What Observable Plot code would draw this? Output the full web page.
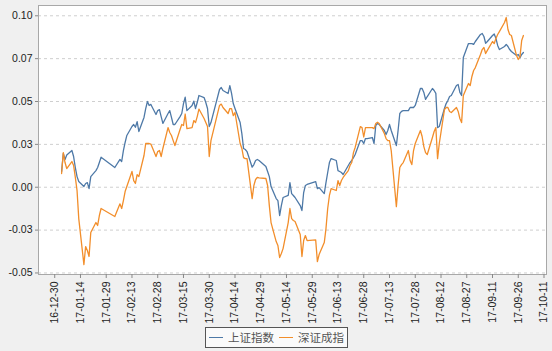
<!DOCTYPE html>
<html>
<head>
<meta charset="utf-8">
<script src="https://cdn.jsdelivr.net/npm/d3@7"></script>
<script src="https://cdn.jsdelivr.net/npm/@observablehq/plot@0.6"></script>
<style>
  html, body { margin: 0; padding: 0; background: #f0f0f0; }
  #chart { width: 552px; height: 326px; }
  #chart svg { overflow: visible; }
  #legend {
    position: absolute; left: 205px; top: 327px; width: 141px; height: 19px;
    border: 1px solid #555; background: #fafafa;
    font-family: "Noto Sans CJK SC", sans-serif; font-size: 11.5px; color: #555;
    display: flex; align-items: center; box-sizing: content-box;
  }
  #legend .sw { display: inline-block; width: 14px; height: 0; border-top: 1.5px solid; margin: 0 5px 0 3px; }
  #legend .lab { display: inline-block; width: 46px; line-height: 19px; white-space: nowrap; }
</style>
</head>
<body>
<div id="chart"></div>
<div id="legend"></div>
<script>
const seriesNames = ["上证指数", "深证成指"];
const seriesColors = ["#4e79a7", "#f28e2b"];

const dates = [
"2017-01-03","2017-01-04","2017-01-05","2017-01-06","2017-01-09","2017-01-10","2017-01-11","2017-01-12","2017-01-13","2017-01-16","2017-01-17","2017-01-18","2017-01-19","2017-01-20","2017-01-23","2017-01-24","2017-01-25","2017-01-26",
"2017-02-03","2017-02-06","2017-02-07","2017-02-08","2017-02-09","2017-02-10","2017-02-13","2017-02-14","2017-02-15","2017-02-16","2017-02-17","2017-02-20","2017-02-21","2017-02-22","2017-02-23","2017-02-24","2017-02-27","2017-02-28",
"2017-03-01","2017-03-02","2017-03-03","2017-03-06","2017-03-07","2017-03-08","2017-03-09","2017-03-10","2017-03-13","2017-03-14","2017-03-15","2017-03-16","2017-03-17","2017-03-20","2017-03-21","2017-03-22","2017-03-23","2017-03-24","2017-03-27","2017-03-28","2017-03-29","2017-03-30","2017-03-31",
"2017-04-05","2017-04-06","2017-04-07","2017-04-10","2017-04-11","2017-04-12","2017-04-13","2017-04-14","2017-04-17","2017-04-18","2017-04-19","2017-04-20","2017-04-21","2017-04-24","2017-04-25","2017-04-26","2017-04-27","2017-04-28",
"2017-05-02","2017-05-03","2017-05-04","2017-05-05","2017-05-08","2017-05-09","2017-05-10","2017-05-11","2017-05-12","2017-05-15","2017-05-16","2017-05-17","2017-05-18","2017-05-19","2017-05-22","2017-05-23","2017-05-24","2017-05-25","2017-05-26","2017-05-31",
"2017-06-01","2017-06-02","2017-06-05","2017-06-06","2017-06-07","2017-06-08","2017-06-09","2017-06-12","2017-06-13","2017-06-14","2017-06-15","2017-06-16","2017-06-19","2017-06-20","2017-06-21","2017-06-22","2017-06-23","2017-06-26","2017-06-27","2017-06-28","2017-06-29","2017-06-30",
"2017-07-03","2017-07-04","2017-07-05","2017-07-06","2017-07-07","2017-07-10","2017-07-11","2017-07-12","2017-07-13","2017-07-14","2017-07-17","2017-07-18","2017-07-19","2017-07-20","2017-07-21","2017-07-24","2017-07-25","2017-07-26","2017-07-27","2017-07-28","2017-07-31",
"2017-08-01","2017-08-02","2017-08-03","2017-08-04","2017-08-07","2017-08-08","2017-08-09","2017-08-10","2017-08-11","2017-08-14","2017-08-15","2017-08-16","2017-08-17","2017-08-18","2017-08-21","2017-08-22","2017-08-23","2017-08-24","2017-08-25","2017-08-28","2017-08-29","2017-08-30","2017-08-31",
"2017-09-01","2017-09-04","2017-09-05","2017-09-06","2017-09-07","2017-09-08","2017-09-11","2017-09-12","2017-09-13","2017-09-14","2017-09-15","2017-09-18","2017-09-19","2017-09-20","2017-09-21","2017-09-22","2017-09-25","2017-09-26","2017-09-27","2017-09-28","2017-09-29"
];

const shangzheng = [
0.0092,0.0197,0.0162,0.0188,0.0214,0.0179,0.0115,0.0062,0.0033,0.0004,0.0022,0.0027,-0.0008,0.0062,0.0097,0.0115,0.0144,0.0175,
0.0115,0.0162,0.0150,0.0214,0.0261,0.0302,0.0354,0.0366,0.0350,0.0383,0.0325,0.0407,0.0459,0.0500,0.0477,0.0483,0.0424,0.0447,
0.0453,0.0412,0.0372,0.0430,0.0447,0.0407,0.0366,0.0366,0.0412,0.0430,0.0488,0.0525,0.0447,0.0477,0.0502,0.0459,0.0494,0.0535,0.0523,0.0494,0.0459,0.0354,0.0377,
0.0570,0.0582,0.0564,0.0547,0.0593,0.0547,0.0488,0.0459,0.0377,0.0313,0.0226,0.0220,0.0208,0.0117,0.0132,0.0156,0.0162,0.0156,
0.0121,0.0092,0.0062,0.0004,-0.0066,-0.0078,-0.0165,-0.0107,-0.0060,-0.0048,0.0027,-0.0037,-0.0048,-0.0060,-0.0107,-0.0136,-0.0031,0.0010,0.0016,0.0033,
-0.0008,-0.0002,-0.0037,0.0027,0.0086,0.0144,0.0167,0.0156,0.0097,0.0092,0.0086,0.0074,0.0127,0.0144,0.0156,0.0173,0.0191,0.0272,0.0272,0.0255,0.0284,0.0284,
0.0290,0.0255,0.0360,0.0372,0.0366,0.0331,0.0307,0.0331,0.0366,0.0331,0.0243,0.0331,0.0430,0.0442,0.0447,0.0447,0.0465,0.0465,0.0465,0.0477,0.0576,
0.0576,0.0553,0.0512,0.0529,0.0576,0.0564,0.0547,0.0348,0.0354,0.0459,0.0488,0.0506,0.0529,0.0535,0.0593,0.0599,0.0553,0.0535,0.0757,0.0838,0.0838,0.0838,0.0833,
0.0850,0.0891,0.0897,0.0879,0.0840,0.0850,0.0885,0.0894,0.0868,0.0827,0.0803,0.0821,0.0833,0.0821,0.0803,0.0792,0.0768,0.0774,0.0756,0.0774,0.0786
];

const shenzheng = [
0.0080,0.0202,0.0144,0.0109,0.0150,0.0127,0.0057,-0.0019,-0.0183,-0.0451,-0.0346,-0.0369,-0.0404,-0.0264,-0.0206,-0.0223,-0.0165,-0.0124,
-0.0171,-0.0097,-0.0124,-0.0078,-0.0025,0.0004,0.0092,0.0039,0.0022,0.0074,0.0062,0.0185,0.0255,0.0255,0.0255,0.0252,0.0179,0.0208,
0.0214,0.0179,0.0226,0.0348,0.0319,0.0302,0.0272,0.0243,0.0337,0.0366,0.0360,0.0427,0.0342,0.0348,0.0389,0.0377,0.0412,0.0456,0.0401,0.0377,0.0354,0.0179,0.0272,
0.0477,0.0485,0.0465,0.0430,0.0459,0.0459,0.0418,0.0436,0.0255,0.0226,0.0173,0.0167,0.0167,-0.0066,0.0010,0.0045,0.0057,0.0054,
0.0051,0.0010,-0.0107,-0.0206,-0.0317,-0.0340,-0.0410,-0.0387,-0.0358,-0.0206,-0.0124,-0.0183,-0.0194,-0.0200,-0.0276,-0.0404,-0.0311,-0.0282,-0.0311,-0.0307,
-0.0434,-0.0393,-0.0323,-0.0241,-0.0124,-0.0048,-0.0008,-0.0019,0.0039,0.0010,0.0039,0.0057,0.0097,0.0127,0.0144,0.0202,0.0232,0.0354,0.0348,0.0293,0.0348,0.0348,
0.0348,0.0342,0.0372,0.0379,0.0372,0.0313,0.0284,0.0272,0.0272,0.0214,-0.0113,0.0010,0.0115,0.0132,0.0144,0.0214,0.0156,0.0132,0.0214,0.0255,0.0331,
0.0296,0.0237,0.0202,0.0191,0.0290,0.0325,0.0348,0.0167,0.0255,0.0453,0.0465,0.0465,0.0442,0.0436,0.0465,0.0442,0.0401,0.0377,0.0535,0.0605,0.0593,0.0646,0.0681,
0.0698,0.0774,0.0803,0.0815,0.0780,0.0798,0.0850,0.0838,0.0868,0.0891,0.0908,0.0961,0.0990,0.0920,0.0891,0.0885,0.0768,0.0745,0.0762,0.0856,0.0885
];

const xTicks = ["2016-12-30","2017-01-14","2017-01-29","2017-02-13","2017-02-28","2017-03-15","2017-03-30","2017-04-14","2017-04-29","2017-05-14","2017-05-29","2017-06-13","2017-06-28","2017-07-13","2017-07-28","2017-08-12","2017-08-27","2017-09-11","2017-09-26","2017-10-11"];
const yTicks = [-0.05, -0.025, 0, 0.025, 0.05, 0.075, 0.1];

const rows = [];
[shangzheng, shenzheng].forEach((vals, s) => {
  vals.forEach((v, i) => rows.push({date: new Date(dates[i]), value: v, series: seriesNames[s]}));
});

const chart = Plot.plot({
  width: 552,
  height: 326,
  marginLeft: 38,
  marginRight: 6,
  marginTop: 5,
  marginBottom: 52,
  style: {background: "transparent", fontFamily: "'Liberation Sans', Arial, sans-serif", fontSize: "10.5px", color: "#222", overflow: "visible"},
  x: {type: "utc", domain: [new Date("2016-12-20T13:12:00Z"), new Date("2017-10-12T10:48:00Z")]},
  y: {domain: [-0.0509, 0.106]},
  color: {domain: seriesNames, range: seriesColors},
  marks: [
    Plot.frame({fill: "white", stroke: null}),
    Plot.gridY(yTicks, {stroke: "#cfcfcf", strokeOpacity: 1, strokeDasharray: "3,3"}),
    Plot.line(rows, {x: "date", y: "value", z: "series", stroke: "series", strokeWidth: 1.3}),
    Plot.frame({stroke: "#a8a8a8"}),
    Plot.axisX(xTicks.map(d => new Date(d)), {tickFormat: d3.utcFormat("%y-%m-%d"), tickRotate: -90, tickSize: 4, tickPadding: 3, stroke: "#888", fill: "#222", label: null}),
    Plot.axisY(yTicks, {tickFormat: d => d.toFixed(2), tickSize: 3, tickPadding: 3, stroke: "#888", fill: "#222", label: null})
  ]
});
document.getElementById("chart").appendChild(chart);

const legend = document.getElementById("legend");
seriesNames.forEach((name, i) => {
  const sw = document.createElement("span");
  sw.className = "sw";
  sw.style.borderTopColor = seriesColors[i];
  if (i > 0) sw.style.marginLeft = "5px";
  const lab = document.createElement("span");
  lab.className = "lab";
  lab.textContent = name;
  legend.appendChild(sw);
  legend.appendChild(lab);
});
</script>
</body>
</html>
